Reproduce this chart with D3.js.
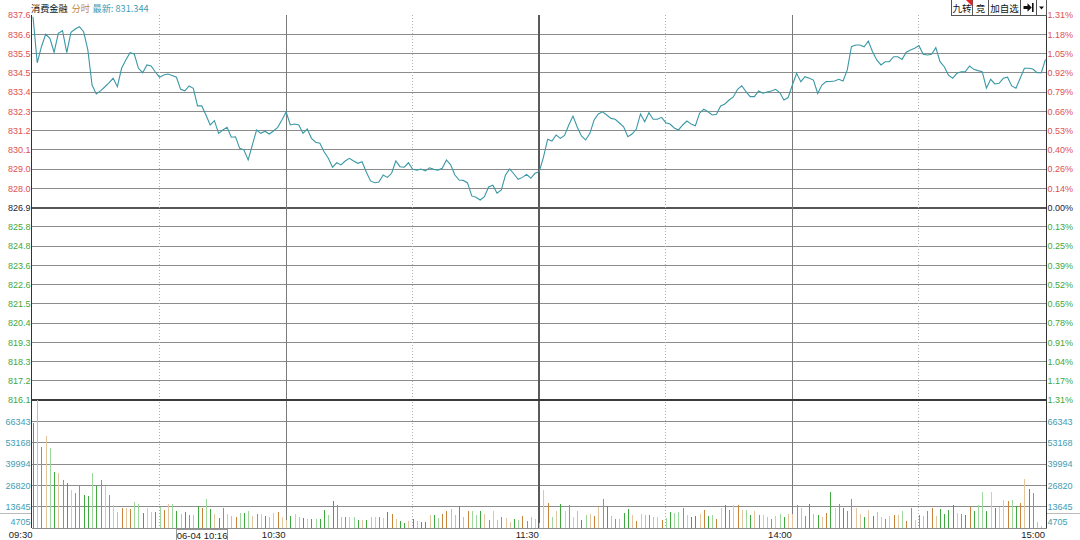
<!DOCTYPE html>
<html><head><meta charset="utf-8">
<script src="https://cdn.jsdelivr.net/npm/d3@7"></script>
<style>
body{margin:0;background:#fff;}
svg{display:block;}
text{font-family:"Liberation Sans",Arial,"Noto Sans CJK SC",sans-serif;}
.cjk{font-family:"Noto Sans CJK SC","Liberation Sans",sans-serif;}
</style>
</head><body>
<svg id="c" width="1080" height="540"></svg>
<script>
// ---------------- DATA ----------------
const title = "消费金融";
const modeLabel = "分时";
const latestLabel = "最新: 831.344";
const cursorLabel = "06-04 10:16";
const cursorIndex = 46;
const buttons = ["九转", "竞", "加自选"];

const priceLabels = ["837.6","836.6","835.5","834.5","833.4","832.3","831.2","830.1","829.0","828.0","826.9",
  "825.8","824.8","823.6","822.6","821.5","820.4","819.3","818.3","817.2","816.1"];
const pctLabels = ["1.31%","1.18%","1.05%","0.92%","0.79%","0.66%","0.53%","0.40%","0.26%","0.14%","0.00%",
  "0.13%","0.25%","0.39%","0.52%","0.65%","0.78%","0.91%","1.04%","1.17%","1.31%"];
const priceMin = 816.05, priceMax = 837.65;

const volTicks = [4705, 13645, 26820, 39994, 53168, 66343];
const volMin = 470.5, volMax = 79517.5;

const timeLabels = ["09:30","10:30","11:30","14:00","15:00"];
const timeIndex = [0, 60, 120, 180, 240];
const halfHourIndex = [30, 90, 150, 210];

const prices = [
 837.55,834.97,835.87,836.57,836.34,835.56,836.62,836.77,835.54,836.68,
 836.86,836.99,836.71,835.69,833.72,833.22,833.39,833.61,833.84,834.10,
 833.63,834.66,835.13,835.54,835.46,834.66,834.41,834.85,834.79,834.45,
 834.16,834.28,834.34,834.26,834.16,833.48,833.40,833.67,833.54,832.55,
 832.55,832.04,831.48,831.72,831.01,831.20,831.344,830.79,830.82,830.17,
 830.08,829.52,830.36,831.20,831.01,831.13,830.97,831.14,831.35,831.76,
 832.21,831.48,831.53,831.48,831.01,831.25,830.73,830.51,830.45,829.98,
 829.61,829.11,829.36,829.24,829.46,829.61,829.46,829.33,829.42,828.84,
 828.34,828.24,828.28,828.67,828.54,828.77,829.46,829.14,829.11,829.36,
 828.99,828.95,829.01,828.90,829.08,828.99,828.95,829.05,829.52,829.24,
 828.67,828.39,828.37,828.23,827.50,827.42,827.27,827.46,828.00,828.10,
 827.65,827.83,828.67,829.01,828.73,828.43,828.54,828.71,828.49,828.77,
 828.86,
 829.68,830.68,830.58,830.92,830.73,830.89,831.48,831.98,831.37,830.86,
 830.64,831.01,831.76,832.10,832.22,832.04,831.85,831.80,831.59,831.38,
 830.82,830.97,831.25,832.10,831.66,832.17,831.80,831.80,831.91,831.61,
 831.53,831.31,831.20,831.48,831.70,831.53,831.44,832.14,832.36,832.22,
 832.04,832.08,832.55,832.66,832.88,833.05,833.48,833.68,833.35,833.07,
 833.07,833.39,833.26,833.33,833.39,833.48,833.30,832.88,833.02,833.72,
 834.38,833.91,834.19,834.10,834.00,833.25,833.72,833.91,833.92,833.95,
 834.04,833.95,834.56,835.87,835.97,835.97,835.87,836.19,835.59,835.13,
 834.85,835.03,835.03,835.31,835.31,835.16,835.56,835.69,835.78,835.93,
 835.45,835.41,835.45,835.82,835.03,834.75,834.28,834.10,834.38,834.47,
 834.47,834.79,834.60,834.53,834.47,833.54,834.04,833.78,833.82,834.10,
 834.16,833.67,833.54,834.10,834.66,834.66,834.62,834.41,834.41,835.16
];

const volumes = [
 65500,79500,50240,57260,49600,34950,34330,30410,28550,24220,
 22360,26490,21120,20090,34330,26280,30200,26700,20910,14510,
 10170,12650,12650,12240,16780,15130,9550,12650,10380,10590,
 13480,11620,15130,15540,11210,8940,10170,8320,8320,14300,
 12860,18640,12030,9350,6870,13070,9350,7700,7080,9550,
 9550,11210,7700,8940,9350,7700,7280,9760,10590,7080,
 5630,7700,9350,7280,6670,6050,6050,6050,6050,11410,
 8320,16990,14510,7080,7280,7080,7080,5630,5220,5220,
 7280,7080,7490,6460,10170,9350,5840,4600,3770,4600,
 6250,5010,3980,3980,8320,8730,6670,9350,11210,12030,
 8320,14300,7280,11210,11210,8320,11210,9350,5630,11210,
 5630,7280,6460,3980,6050,5220,7700,4600,7080,6050,
 3570,
 23800,16160,7080,11210,15540,10800,14510,7280,11210,5220,
 8730,8940,7700,13480,18230,14300,7700,6050,6050,9550,
 12450,8320,4600,9350,8730,8320,7280,7080,5630,6670,
 10590,9550,10590,12860,8320,7280,7700,8940,11410,7700,
 8320,6050,12650,14920,11410,14920,14510,11410,11410,8320,
 10800,8320,8320,7080,6050,7700,9350,7280,9350,9000,
 14920,13070,7700,15130,9350,8730,7080,9550,22980,12650,
 15540,12650,11210,18640,12650,9350,7280,11410,7700,10590,
 7080,6050,7900,8730,8320,11210,4600,13070,5630,8320,
 7700,10800,13070,7700,12240,9350,11410,14920,9970,9350,
 8320,13480,11210,14920,22980,10800,22570,12860,13480,17610,
 16990,17610,13890,16160,30620,24630,22360,3980,1500,46100
];

// bar tone codes: R = up (strong), r = up (light), G = down (strong), g = down (light), N = neutral
const volTone = (
 "N g R r g G r R G r " +
 "R R G G g G R r R r " +
 "g R r R g g G r r G " +
 "g R r g G g G R g G " +
 "R g G r G R r g R g " +
 "G g r R r G g r R r " +
 "r G r g G r G g G G " +
 "g G R g R r g G r G " +
 "g r R r G R r G G r " +
 "G g G G r G g R R g " +
 "g G g R g g G r R r " +
 "g R r r G g R R g r " +
 "r " +
 "r R g r G r R r g G " +
 "g r R r R G g R g G " +
 "G r R r g R g r R g " +
 "G g g R r G G r R G " +
 "g R r G R r R r g G " +
 "r R r g R r g G r r " +
 "R g R G g G r R G r " +
 "R G R R r r G r G g " +
 "r R r R r g R R r R " +
 "g R R r G G G G r R " +
 "G R G g g G r G r r " +
 "R g G R r G R g g r").trim().split(/\s+/);

// ---------------- LAYOUT ----------------
const W = 1080, H = 540;
const pL = 31.5, pR = 1046.5;
const pTop = 15, pMid = 400, pBot = 528;

const svg = d3.select("#c");
const x = d3.scaleLinear().domain([0, 240]).range([33, 1045.5]);
const yP = d3.scaleLinear().domain([priceMin, priceMax]).range([pMid, pTop]);
const yV = d3.scaleLinear().domain([volMin, volMax]).range([pBot, pMid]);

const priceTicks = d3.range(21).map(i => priceMax - i * (priceMax - priceMin) / 20);

const upCol = "#e05050", downCol = "#3ea83e", neutralCol = "#23233a", volCol = "#3f9db3";
const toneColor = d3.scaleOrdinal().domain(["R","r","G","g","N"])
  .range(["#c7843a", "#e5c59f", "#3ea93e", "#9dd89d", "#3c99b6"]);

// ---------------- GRID ----------------
const g = svg.append("g").attr("shape-rendering", "crispEdges");

priceTicks.forEach((p, i) => {
  if (i === 0 || i === 20) return;
  g.append("line").attr("x1", pL).attr("x2", pR)
    .attr("y1", yP(p)).attr("y2", yP(p))
    .attr("stroke", i === 10 ? "#555" : "#8c8c8c")
    .attr("stroke-width", i === 10 ? 2 : 1);
});
volTicks.slice(1).forEach(v => {
  g.append("line").attr("x1", pL).attr("x2", pR)
    .attr("y1", yV(v)).attr("y2", yV(v))
    .attr("stroke", "#8c8c8c").attr("stroke-width", 1);
});
g.append("line").attr("x1", pL).attr("x2", pR).attr("y1", pBot).attr("y2", pBot)
  .attr("stroke", "#8c8c8c");
g.append("line").attr("x1", 0).attr("x2", pL).attr("y1", 513.5).attr("y2", 513.5).attr("stroke", "#bbb");
g.append("line").attr("x1", pR).attr("x2", W).attr("y1", 513.5).attr("y2", 513.5).attr("stroke", "#bbb");

halfHourIndex.forEach(i => {
  g.append("line").attr("x1", x(i)).attr("x2", x(i)).attr("y1", pTop).attr("y2", pBot)
    .attr("stroke", "#b0b0b0").attr("stroke-dasharray", "1,2");
});
[60, 180].forEach(i => {
  g.append("line").attr("x1", x(i)).attr("x2", x(i)).attr("y1", pTop).attr("y2", pBot)
    .attr("stroke", "#7a7a7a");
});
g.append("line").attr("x1", x(120)).attr("x2", x(120)).attr("y1", pTop).attr("y2", pBot)
  .attr("stroke", "#5a5a5a").attr("stroke-width", 2);

// ---------------- VOLUME BARS ----------------
svg.append("g").attr("shape-rendering", "crispEdges")
  .selectAll("line").data(volumes).join("line")
  .attr("x1", (d, i) => Math.round(x(i)) + 0.5)
  .attr("x2", (d, i) => Math.round(x(i)) + 0.5)
  .attr("y1", pBot)
  .attr("y2", d => yV(Math.min(d, volMax)))
  .attr("stroke", (d, i) => toneColor(volTone[i]))
  .attr("stroke-width", 1.2);

g.append("line").attr("x1", pL).attr("x2", pR).attr("y1", pMid).attr("y2", pMid)
  .attr("stroke", "#3a3a3a").attr("stroke-width", 2);

// ---------------- PRICE LINE ----------------
svg.append("path").datum(prices)
  .attr("fill", "none").attr("stroke", "#3a98a6").attr("stroke-width", 1.1)
  .attr("d", d3.line().x((d, i) => x(i)).y(d => yP(d)));

const fr = svg.append("g").attr("shape-rendering", "crispEdges");
fr.append("line").attr("x1", pL).attr("x2", pL).attr("y1", pTop).attr("y2", pBot).attr("stroke", "#333");
fr.append("line").attr("x1", pR).attr("x2", pR).attr("y1", 0).attr("y2", pBot).attr("stroke", "#333");

// ---------------- AXES ----------------
function colorFor(i) { return i < 10 ? upCol : (i === 10 ? neutralCol : downCol); }
const FONT = "Liberation Sans, Arial, sans-serif";

const axL = svg.append("g").attr("transform", `translate(${pL - 1},0)`)
  .call(d3.axisLeft(yP).tickValues(priceTicks).tickSize(0).tickPadding(0)
    .tickFormat((d, i) => priceLabels[i]));
axL.select(".domain").remove();
axL.selectAll("text").attr("font-size", 9).attr("font-family", FONT).attr("fill", (d, i) => colorFor(i));

const axR = svg.append("g").attr("transform", `translate(${pR + 1},0)`)
  .call(d3.axisRight(yP).tickValues(priceTicks).tickSize(0).tickPadding(0)
    .tickFormat((d, i) => pctLabels[i]));
axR.select(".domain").remove();
axR.selectAll("text").attr("font-size", 9).attr("font-family", FONT).attr("fill", (d, i) => colorFor(i));

const avL = svg.append("g").attr("transform", `translate(${pL - 1},0)`)
  .call(d3.axisLeft(yV).tickValues(volTicks).tickSize(0).tickPadding(0).tickFormat(d3.format("d")));
avL.select(".domain").remove();
avL.selectAll("text").attr("font-size", 9).attr("font-family", FONT).attr("fill", volCol);

const avR = svg.append("g").attr("transform", `translate(${pR + 1},0)`)
  .call(d3.axisRight(yV).tickValues(volTicks).tickSize(0).tickPadding(0).tickFormat(d3.format("d")));
avR.select(".domain").remove();
avR.selectAll("text").attr("font-size", 9).attr("font-family", FONT).attr("fill", volCol);

const axT = svg.append("g").attr("transform", `translate(0,${pBot})`)
  .call(d3.axisBottom(x).tickValues(timeIndex).tickSize(0).tickPadding(3)
    .tickFormat((d, i) => timeLabels[i]));
axT.select(".domain").remove();
axT.selectAll("text").attr("font-size", 9.5).attr("font-family", FONT)
  .attr("fill", "#222").attr("text-anchor", "end").attr("dx", -1);

const cx = x(cursorIndex);
svg.append("rect").attr("x", cx - 50.5).attr("y", 529.5).attr("width", 51).attr("height", 11)
  .attr("fill", "#fff").attr("stroke", "#9a9a9a").attr("shape-rendering", "crispEdges");
svg.append("text").attr("x", cx - 25).attr("y", 538.5).attr("text-anchor", "middle")
  .attr("font-size", 9.5).attr("fill", "#222").text(cursorLabel);

// ---------------- HEADER ----------------
svg.append("text").attr("class", "cjk").attr("x", 31).attr("y", 12).attr("font-size", 9.2)
  .attr("fill", "#111").text(title);
svg.append("text").attr("class", "cjk").attr("x", 71.5).attr("y", 12).attr("font-size", 9.2)
  .attr("fill", "#c0873a").text(modeLabel);
svg.append("text").attr("class", "cjk").attr("x", 92.5).attr("y", 12).attr("font-size", 9.2)
  .attr("fill", volCol).text(latestLabel);

const btnEdges = [951.5, 972.5, 988.5, 1020.5, 1036.5, 1046.5];
const bg = svg.append("g").attr("shape-rendering", "crispEdges");
for (let k = 0; k < 5; k++) {
  bg.append("rect").attr("x", btnEdges[k]).attr("y", -1)
    .attr("width", btnEdges[k + 1] - btnEdges[k]).attr("height", 16.5)
    .attr("fill", "#fff").attr("stroke", "#555");
}
buttons.forEach((b, k) => {
  svg.append("text").attr("class", "cjk")
    .attr("x", (btnEdges[k] + btnEdges[k + 1]) / 2).attr("y", 12)
    .attr("text-anchor", "middle").attr("font-size", 9.5).attr("fill", "#111").text(b);
});
svg.append("path").attr("d", `M${btnEdges[1] - 6.5},0 L${btnEdges[1]},0 L${btnEdges[1]},6.5 Z`).attr("fill", "#e02525");
svg.append("path").attr("d", "M1023.5,6 h4 v-2.8 l4.2,4.3 l-4.2,4.3 v-2.8 h-4 z").attr("fill", "#111");
svg.append("rect").attr("x", 1032).attr("y", 3).attr("width", 1.6).attr("height", 9).attr("fill", "#111");
svg.append("path").attr("d", "M1039,6.5 h5 l-2.5,3 z").attr("fill", "#111");
</script>
</body></html>
